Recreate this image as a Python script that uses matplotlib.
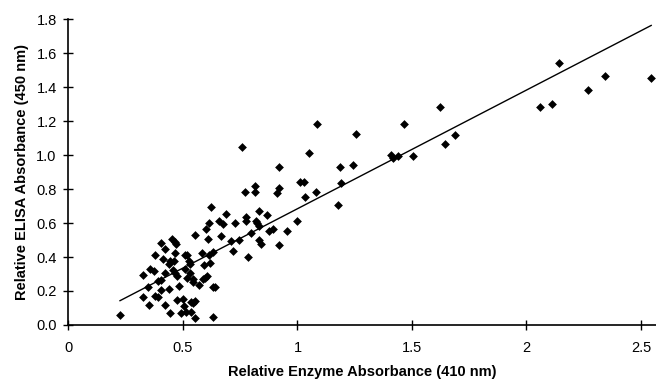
import matplotlib.pyplot as plt
import numpy as np

plt.rcParams['font.family'] = ['Liberation Sans', 'DejaVu Sans']

# relative enzyme absorbance (410 nm) vs relative ELISA absorbance (450 nm)
enzyme = [0.225, 0.327, 0.327, 0.356, 0.373, 0.347, 0.353, 0.376, 0.391, 0.402,
          0.379, 0.391, 0.405, 0.405, 0.420, 0.414, 0.423, 0.420, 0.443, 0.440,
          0.437, 0.443, 0.452, 0.464, 0.469, 0.466, 0.461, 0.458, 0.466, 0.475,
          0.484, 0.475, 0.490, 0.501, 0.504, 0.513, 0.533, 0.554, 0.507, 0.510,
          0.519, 0.525, 0.531, 0.516, 0.531, 0.542, 0.542, 0.536, 0.545, 0.551,
          0.551, 0.569, 0.583, 0.586, 0.592, 0.597, 0.603, 0.600, 0.609, 0.612,
          0.615, 0.618, 0.621, 0.630, 0.641, 0.632, 0.630, 0.656, 0.665, 0.676,
          0.688, 0.711, 0.720, 0.726, 0.746, 0.769, 0.775, 0.775, 0.784, 0.798,
          0.816, 0.819, 0.831, 0.758, 1.087, 1.255, 1.052, 0.921, 1.186, 1.244,
          1.410, 1.416, 1.439, 1.011, 1.028, 1.191, 0.813, 0.921, 0.912, 1.034,
          1.081, 1.177, 0.868, 0.825, 0.833, 0.999, 0.955, 0.895, 0.874, 0.833,
          0.842, 0.918, 2.143, 1.465, 1.622, 2.059, 2.111, 1.689, 1.645, 1.506,
          2.271, 2.344, 2.542]
elisa = [0.057, 0.296, 0.167, 0.328, 0.316, 0.225, 0.120, 0.414, 0.261, 0.265,
         0.171, 0.163, 0.206, 0.484, 0.445, 0.390, 0.304, 0.120, 0.069, 0.210,
         0.359, 0.375, 0.504, 0.488, 0.476, 0.425, 0.375, 0.324, 0.304, 0.288,
         0.229, 0.147, 0.069, 0.151, 0.112, 0.076, 0.076, 0.041, 0.328, 0.414,
         0.410, 0.378, 0.359, 0.276, 0.304, 0.269, 0.253, 0.135, 0.127, 0.143,
         0.528, 0.237, 0.425, 0.272, 0.351, 0.276, 0.288, 0.563, 0.508, 0.410,
         0.598, 0.363, 0.692, 0.222, 0.222, 0.045, 0.429, 0.610, 0.524, 0.594,
         0.653, 0.496, 0.437, 0.602, 0.500, 0.782, 0.637, 0.614, 0.402, 0.543,
         0.782, 0.610, 0.672, 1.049, 1.182, 1.124, 1.010, 0.928, 0.931, 0.943,
         1.002, 0.982, 0.994, 0.841, 0.841, 0.833, 0.818, 0.806, 0.775, 0.755,
         0.782, 0.704, 0.645, 0.598, 0.582, 0.614, 0.555, 0.567, 0.551, 0.500,
         0.476, 0.472, 1.543, 1.182, 1.284, 1.281, 1.300, 1.116, 1.065, 0.994,
         1.384, 1.465, 1.453]

# fitted line endpoints
fit_x = [0.225, 2.545]
fit_slope = 0.698
fit_icpt = -0.014

fig = plt.figure(figsize=(6.56, 3.81), dpi=100)
ax = fig.add_axes([0.1044, 0.147, 0.8956, 0.803])

ax.scatter(enzyme, elisa, marker='D', s=20, color='black', linewidths=0, zorder=3)
fx = np.array(fit_x)
ax.plot(fx, fit_slope * fx + fit_icpt, color='black', lw=1)

ax.set_xlim(0, 2.566)
ax.set_ylim(0, 1.8)
ax.set_xticks([0, 0.5, 1, 1.5, 2, 2.5])
ax.set_xticklabels(['0', '0.5', '1', '1.5', '2', '2.5'])
ax.set_yticks(np.arange(0, 1.81, 0.2))
ax.set_yticklabels([f'{v:.1f}' for v in np.arange(0, 1.81, 0.2)])

for s in ['top', 'right']:
    ax.spines[s].set_visible(False)
for s in ['left', 'bottom']:
    ax.spines[s].set_linewidth(1.2)
ax.tick_params(direction='inout', length=7, width=1, labelsize=10.5)
ax.tick_params(axis='x', pad=8)
ax.tick_params(axis='y', pad=5)

ax.set_xlabel('Relative Enzyme Absorbance (410 nm)', fontsize=10.5, fontweight='bold', labelpad=7)
ax.set_ylabel('Relative ELISA Absorbance (450 nm)', fontsize=10.5, fontweight='bold', labelpad=5)

fig.savefig('out.png', dpi=100)
